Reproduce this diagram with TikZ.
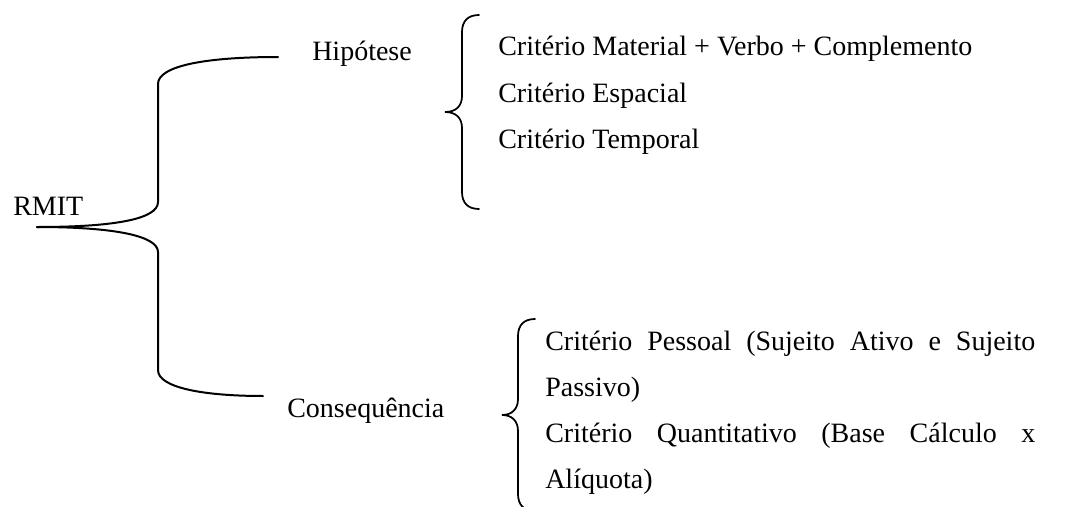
\documentclass[tikz,border=0pt]{standalone}
\usepackage{fontspec}
\setmainfont{Liberation Serif}
\begin{document}
\begin{tikzpicture}[x=0.75pt,y=-0.75pt,
  txt/.style={font=\fontsize{21}{35}\selectfont, inner sep=0pt, anchor=base west},
  conn/.style={line width=1.5pt, line cap=round},
  bracestroke/.style={line width=1.3pt, line cap=round}]
\useasboundingbox (0,0) rectangle (1079,507);
\clip (0,0) rectangle (1079,507);
% main labels
\node[txt] (rmit) at (13,215) {RMIT};
\node[txt] (hip) at (312,60) {Hipótese};
\node[txt] (con) at (287,417) {Consequência};
% connector end points
\coordinate (root) at (37,227);
\coordinate (hipEnd) at (278,57);
\coordinate (conEnd) at (263,396);
% main brace
\draw[conn] (root) .. controls (115,227) and (158,219) .. (158,202) -- (158,84)
  .. controls (158,66) and (205,57) .. (hipEnd);
\draw[conn] (root) .. controls (115,227) and (158,236) .. (158,252) -- (158,370)
  .. controls (158,388) and (205,396) .. (conEnd);
% hypothesis brace
\draw[bracestroke] (479,15) .. controls (468,15) and (462,21) .. (462,32) -- (462,96)
  .. controls (462,106) and (456,112) .. (445,112)
  .. controls (456,112) and (462,118) .. (462,128) -- (462,192)
  .. controls (462,203) and (468,209) .. (479,209);
% consequence brace
\draw[bracestroke] (535,319) .. controls (524,319) and (518,325) .. (518,336) -- (518,399)
  .. controls (518,409) and (512,415) .. (502,415)
  .. controls (512,415) and (518,421) .. (518,431) -- (518,494)
  .. controls (518,505) and (524,511) .. (535,511);
% hypothesis criteria
\node[txt] (h1) at (498,55) {Critério Material + Verbo + Complemento};
\node[txt] (h2) at (498,102) {Critério Espacial};
\node[txt] (h3) at (498,148) {Critério Temporal};
% consequence criteria (justified)
\node[txt] (c1) at (545,350) {\makebox[367.5pt][s]{Critério Pessoal (Sujeito Ativo e Sujeito}};
\node[txt] (c2) at (545,396) {Passivo)};
\node[txt] (c3) at (545,442) {\makebox[367.5pt][s]{Critério Quantitativo (Base Cálculo x}};
\node[txt] (c4) at (545,488) {Alíquota)};
\end{tikzpicture}
\end{document}
